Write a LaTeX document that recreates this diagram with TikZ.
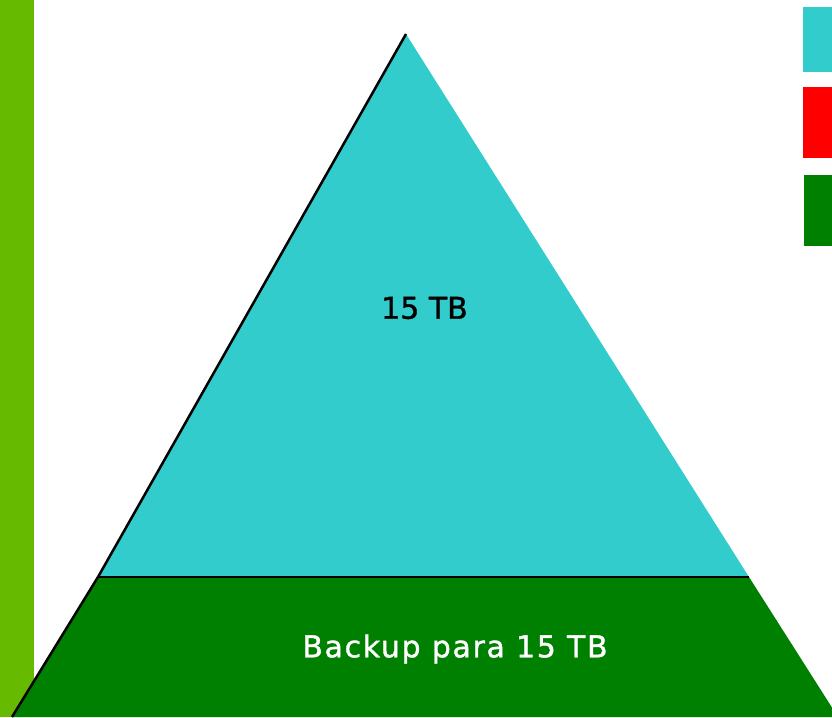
\documentclass[tikz,border=0pt]{standalone}
\usepackage{fontspec}
\setmainfont{DejaVu Sans}[FakeBold=1.2]
\newfontfamily\spacedfont[LetterSpace=5.5,FakeBold=1.2]{DejaVu Sans}
\definecolor{barGreen}{HTML}{66BB00}
\definecolor{topCyan}{HTML}{33CCCC}
\definecolor{baseGreen}{HTML}{008000}
\definecolor{legRed}{HTML}{FF0000}
\tikzset{
  edge/.style={draw=black, line width=2.5pt},
  lbl/.style={font=\fontsize{30}{35}\selectfont, inner sep=0pt},
  wlbl/.style={font=\spacedfont\fontsize{30}{35}\selectfont, inner sep=0pt},
}
\begin{document}
\begin{tikzpicture}[x=1pt,y=-1pt]
\useasboundingbox (0,0) rectangle (832,717);
\clip (0,0) rectangle (832,717);
% left bar
\fill[barGreen] (0,0) rectangle (34,717);
% coordinates
\coordinate (apex) at (406,34);
\coordinate (bl) at (98,577);
\coordinate (br) at (749,577);
\coordinate (gl) at (12,717);
\coordinate (gr) at (838,717);
% cyan triangle
\fill[topCyan] (apex) -- (br) -- (bl) -- cycle;
% green base
\fill[baseGreen] (bl) -- (br) -- (gr) -- (gl) -- cycle;
% black edges
\draw[edge] (apex) -- (bl) -- (gl);
\draw[edge] (bl) -- (br);
% legend
\fill[topCyan] (803,7) rectangle (832,72);
\fill[legRed] (803,87) rectangle (832,158);
\fill[baseGreen] (804,175) rectangle (832,246);
% labels
\node[lbl, text=black] (top) at (424.5,308) {15 TB};
\node[wlbl, text=white] (base) at (455,649) {Backup para 15 TB};
\end{tikzpicture}
\end{document}
